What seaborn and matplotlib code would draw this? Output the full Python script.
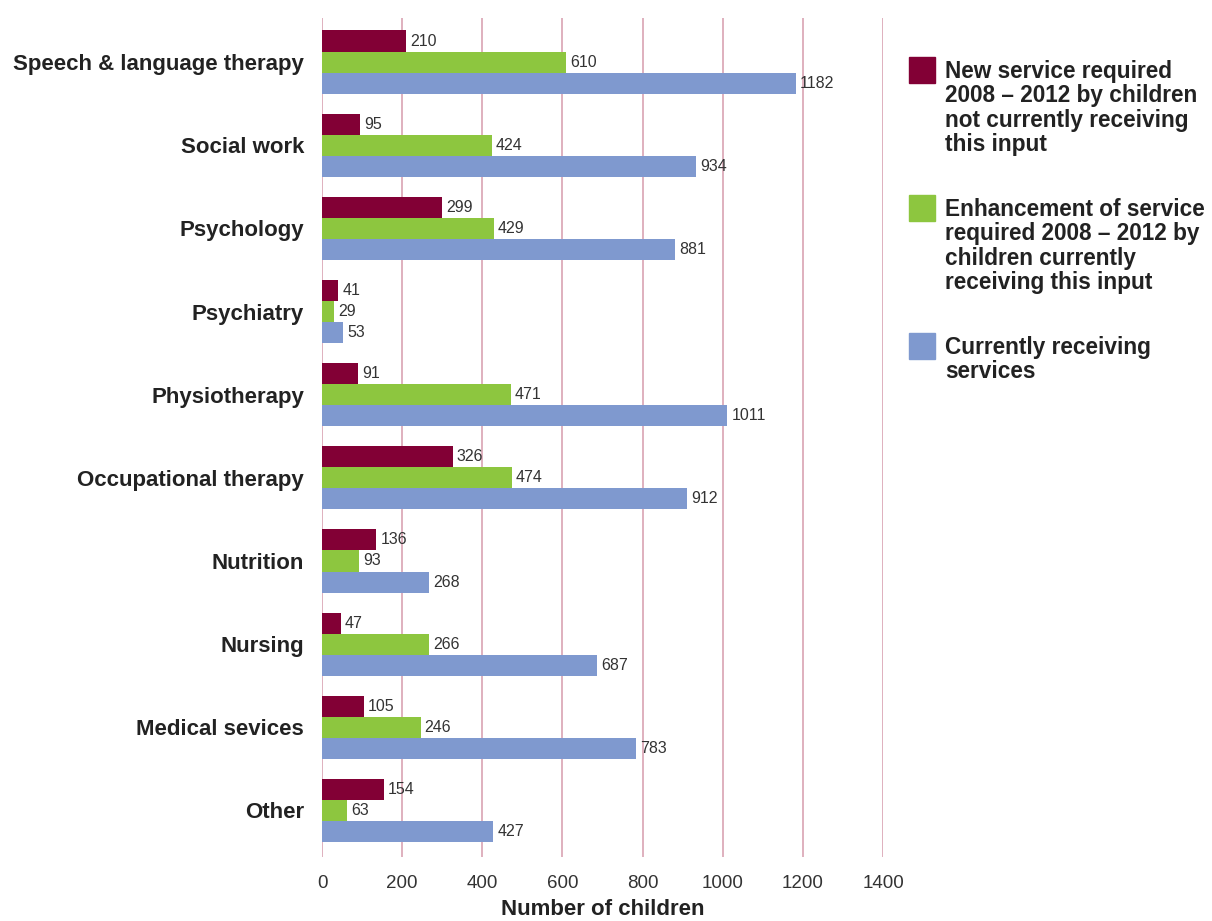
import matplotlib
matplotlib.use("Agg")
import matplotlib.pyplot as plt
import seaborn as sns
import pandas as pd
from matplotlib.patches import Rectangle

categories = ["Speech & language therapy", "Social work", "Psychology", "Psychiatry",
              "Physiotherapy", "Occupational therapy", "Nutrition", "Nursing",
              "Medical sevices", "Other"]
new_service = [210, 95, 299, 41, 91, 326, 136, 47, 105, 154]
enhancement = [610, 424, 429, 29, 471, 474, 93, 266, 246, 63]
current = [1182, 934, 881, 53, 1011, 912, 268, 687, 783, 427]
series_names = ["New service required\n2008 \u2013 2012 by children\nnot currently receiving\nthis input",
                "Enhancement of service\nrequired 2008 \u2013 2012 by\nchildren currently\nreceiving this input",
                "Currently receiving\nservices"]
colors = ["#820035", "#8DC63F", "#7F99CF"]
xticks = [0, 200, 400, 600, 800, 1000, 1200, 1400]

rows = []
for name, vals in zip(series_names, [new_service, enhancement, current]):
    for c, v in zip(categories, vals):
        rows.append({"category": c, "value": v, "series": name})
df = pd.DataFrame(rows)

sns.set_theme(style="white")
plt.rcParams['font.family'] = ['Liberation Sans', 'DejaVu Sans']

fig = plt.figure(figsize=(12.12, 9.21), dpi=100)
ax = fig.add_axes([322/1212, 1-857/921, 561/1212, (857-18)/921])

sns.barplot(data=df, y="category", x="value", hue="series", palette=colors,
            orient="h", width=0.76, dodge=True, legend=False, ax=ax,
            saturation=1, order=categories, hue_order=series_names,
            linewidth=0, edgecolor="none")

for cont in ax.containers:
    ax.bar_label(cont, padding=3, fontsize=11.5, color="#333333")

ax.set_xlim(0, 1400)
ax.set_ylim(len(categories) - 0.5 + 0.06, -0.5 - 0.03)
ax.set_xticks(xticks)
ax.set_xticklabels([str(t) for t in xticks], fontsize=13.5, color="#333333")
ax.xaxis.grid(True, color="#D9A3B3", linewidth=1.2)
ax.yaxis.grid(False)
ax.set_axisbelow(True)
for s in ax.spines.values():
    s.set_visible(False)
ax.tick_params(axis="x", length=0, pad=13)
ax.tick_params(axis="y", length=0, pad=13)
for lab in ax.get_yticklabels():
    lab.set_fontweight("bold")
    lab.set_fontsize(16)
    lab.set_color("#222222")
ax.set_ylabel("")
ax.set_xlabel("Number of children", fontsize=16, fontweight="bold", color="#222222", labelpad=5)

# manual legend
legend_tops = [57, 195, 333]
for name, col, top in zip(series_names, colors, legend_tops):
    fig.patches.append(Rectangle((909/1212, 1-(top+26)/921), 26/1212, 26/921,
                                 transform=fig.transFigure, color=col))
    fig.text(945/1212, 1-(top+3)/921, name, fontsize=16.3, fontweight="bold",
             color="#222222", va="top", ha="left", linespacing=1.08)

fig.savefig("out.png", dpi=100)
